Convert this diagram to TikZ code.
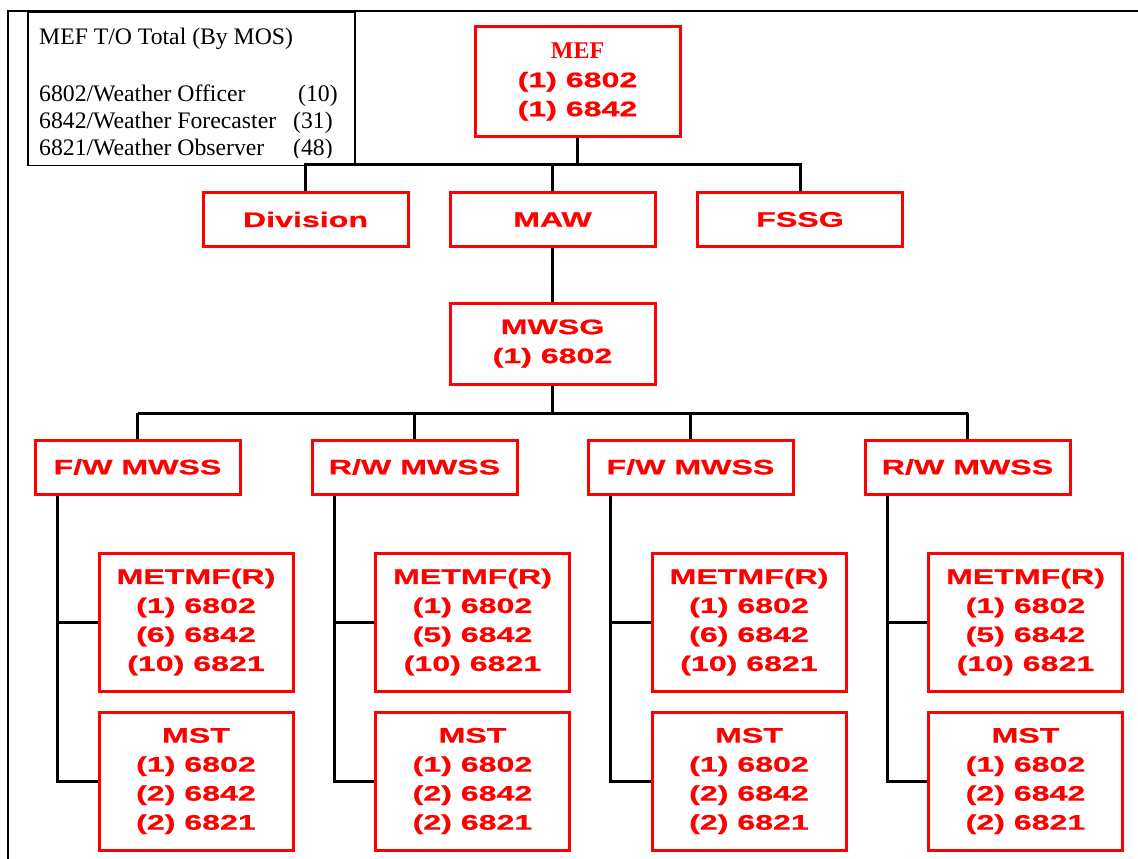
\documentclass[tikz,border=0pt]{standalone}
\usepackage{fontspec}
\setmainfont{Liberation Serif}
\newfontfamily\arb[FakeStretch=1.53,FakeBold=0.8]{Liberation Sans Bold}
\begin{document}
\begin{tikzpicture}[x=1pt,y=-1pt,
 box/.style={draw=red,line width=3pt,text=red,inner sep=0pt,align=center,font=\arb\fontsize{21}{29}\selectfont},
 smallbox/.style={box,minimum width=205pt,minimum height=54pt},
 unitbox/.style={box,minimum width=194pt,minimum height=138pt},
 conn/.style={draw=black,line width=3pt},
 frame/.style={draw=black,line width=1.5pt},
 lt/.style={inner sep=0pt,anchor=base west,font=\fontsize{23.7}{27}\selectfont}]
\useasboundingbox (0,0) rectangle (1138,859);
% outer frame
\draw[frame] (8,859) -- (8,11) -- (1138,11);
% legend
\node[draw,line width=1.5pt,minimum width=327pt,minimum height=153pt,anchor=north west,inner sep=0pt] (leg) at (27,11.5) {};
\begin{scope}
\clip (27,11) rectangle (354,157);
\node[lt] (l0) at (39,45) {MEF T/O Total (By MOS)};
\node[lt] (l1) at (39,101) {6802/Weather Officer};
\node[lt] (l2) at (39,128) {6842/Weather Forecaster};
\node[lt] (l3) at (39,155.5) {6821/Weather Observer};
\node[lt] (n1) at (298,101) {(10)};
\node[lt] (n2) at (293,128) {(31)};
\node[lt] (n3) at (293,155.5) {(48)};
\end{scope}
% top levels
\node[box,minimum width=205pt,minimum height=109pt] (mef) at (577.5,81.5)
  {{\rmfamily\bfseries\fontsize{24}{29}\selectfont MEF}\\(1) 6802\\(1) 6842};
\node[smallbox] (div) at (305.5,219.5) {Division};
\node[smallbox] (maw) at (552.5,219.5) {MAW};
\node[smallbox] (fssg) at (800,219.5) {FSSG};
\node[box,minimum width=205pt,minimum height=81pt] (mwsg) at (552.5,343.5) {MWSG\\(1) 6802};
\coordinate (b1) at (577.5,164);
\coordinate (b2) at (552.5,413);
\draw[conn] (mef.south) -- (b1);
\draw[conn] (div.north) -- (div.north |- b1) -- (fssg.north |- b1) -- (fssg.north);
\draw[conn] (maw.north) -- (maw.north |- b1);
\draw[conn] (maw.south) -- (mwsg.north);
\draw[conn] (mwsg.south) -- (b2);
% squadrons
\foreach \i/\x/\mx/\lab/\ff in {1/137.5/196/F/6,2/414.5/472.5/R/5,3/690.5/749/F/6,4/967.5/1025.5/R/5}{
  \node[smallbox] (s\i) at (\x,467) {\lab/W MWSS};
  \node[unitbox] (met\i) at (\mx,622) {METMF(R)\\(1) 6802\\(\ff) 6842\\(10) 6821};
  \node[unitbox] (mst\i) at (\mx,781) {MST\\(1) 6802\\(2) 6842\\(2) 6821};
  \draw[conn] (s\i.north) -- (s\i.north |- b2);
  \draw[conn] ([xshift=24pt]s\i.south west) coordinate (t\i) |- (mst\i.west);
  \draw[conn] (met\i.west) -- (met\i.west -| t\i);
}
\draw[conn] (s1.north |- b2) -- (s4.north |- b2);
\end{tikzpicture}
\end{document}
